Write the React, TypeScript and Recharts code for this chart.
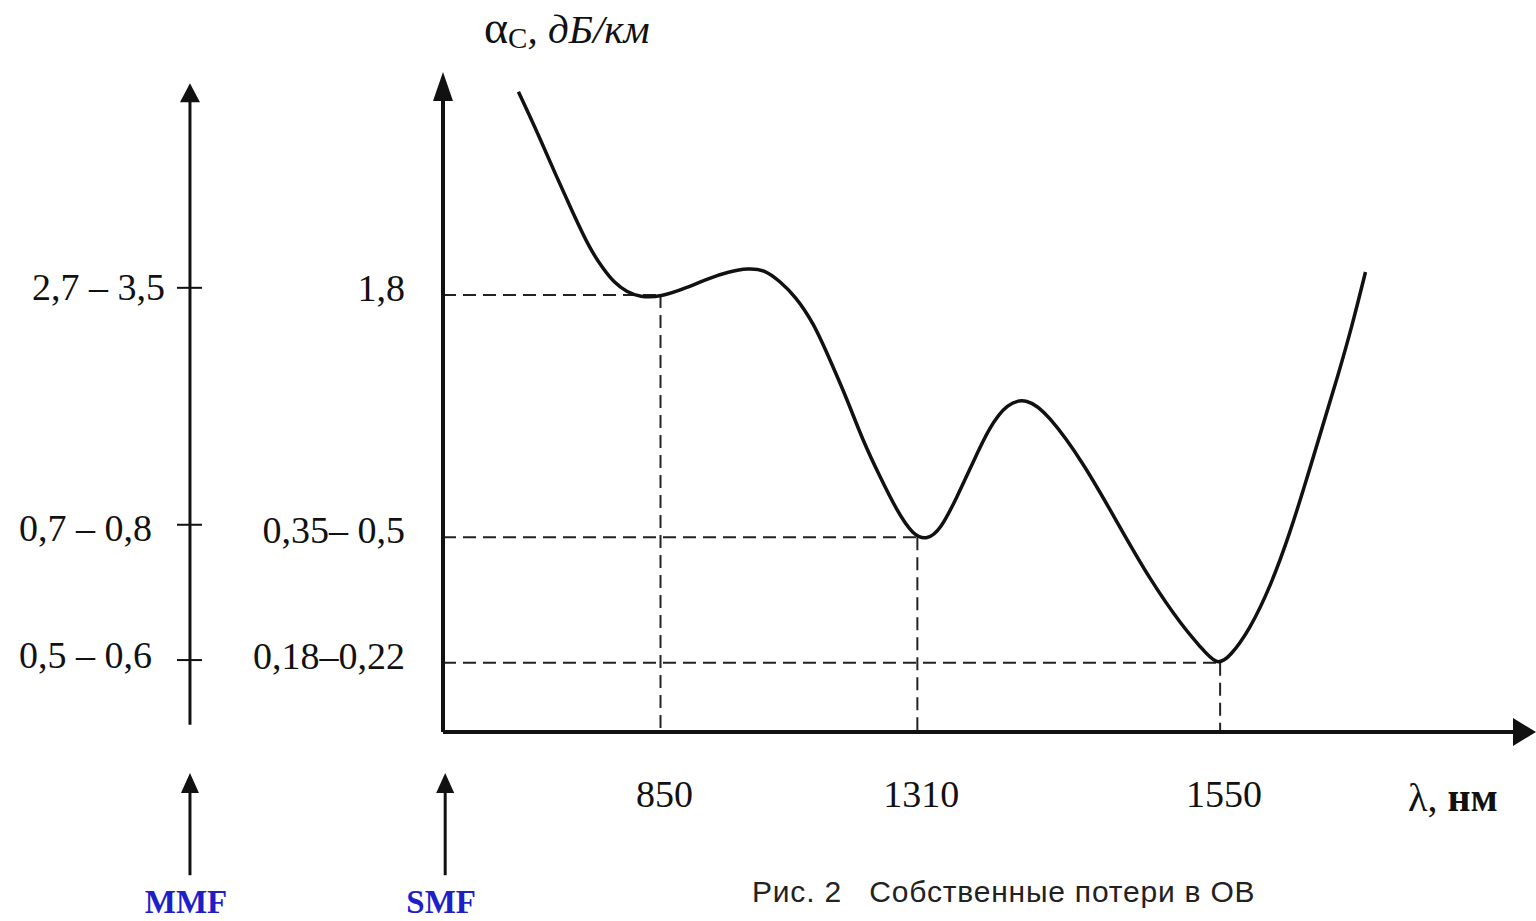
import {
  Line,
  LineChart,
  ReferenceDot,
  ReferenceLine,
  XAxis,
  YAxis,
} from "recharts";

// schematic attenuation curve (x: 0..100 along the wavelength axis, y: 0..100 up the loss axis)
const curveX = [
  6.9, 8.7, 10.4, 11.9, 13.4, 14.6, 15.7, 16.8, 18.0, 19.9, 22.3, 24.4, 26.1,
  27.9, 29.5, 30.8, 32.2, 33.9, 35.4, 37.0, 38.4, 40.0, 41.5, 43.0, 44.3, 45.5,
  47.0, 48.5, 50.0, 51.6, 53.4, 55.3, 58.6, 61.7, 64.7, 67.7, 69.3, 70.8, 72.0,
  73.8, 75.7, 77.5, 79.0, 80.5, 81.9, 83.2, 84.4,
];
const curveY = [
  97.0, 90.6, 84.1, 78.6, 73.3, 70.3, 68.0, 66.7, 65.9, 65.9, 67.3, 68.8, 69.7,
  70.3, 70.0, 68.3, 66.1, 62.0, 56.4, 50.3, 44.2, 38.6, 33.6, 29.8, 29.1, 30.6,
  35.5, 40.9, 46.2, 49.8, 50.6, 48.3, 40.8, 31.7, 23.0, 15.9, 12.9, 10.0, 11.4,
  15.5, 22.0, 30.2, 38.2, 46.5, 54.1, 61.7, 69.7,
];

const waveTicks = [19.9, 43.4, 71.1];
const waveLabels = ["850", "1310", "1550"];

const smfTicks = [66.2, 29.5, 10.5];
const smfLabels = ["1,8", "0,35– 0,5", "0,18–0,22"];

const mmfTicks = [67.3, 31.4, 10.9];
const mmfLabels = ["2,7 – 3,5", "0,7 – 0,8", "0,5 – 0,6"];

const curve = curveX.map((x, i) => ({ x, y: curveY[i] }));

const SERIF = '"Liberation Serif", "Times New Roman", serif';
const INK = "#111";
const MMF_X = -23.15;
const SMF_PTR_X = 0.2;

function WaveTick(props: any) {
  const { x, y, index } = props;
  return (
    <text x={x + 4} y={y + 75} textAnchor="middle" fontFamily={SERIF} fontSize={38} fill={INK}>
      {waveLabels[index]}
    </text>
  );
}

function SmfTick(props: any) {
  const { x, y, index } = props;
  return (
    <text x={x - 38} y={y + 6} textAnchor="end" fontFamily={SERIF} fontSize={38} fill={INK}>
      {smfLabels[index]}
    </text>
  );
}

function MmfTick(props: any) {
  const { x, y, index } = props;
  const dx = [0, -13, -13][index] ?? 0;
  const dy = [12, 16, 8][index] ?? 10;
  return (
    <g>
      <line x1={x - 13} x2={x + 12} y1={y} y2={y} stroke={INK} strokeWidth={2} />
      <text x={x - 25 + dx} y={y + dy} textAnchor="end" fontFamily={SERIF} fontSize={38} fill={INK}>
        {mmfLabels[index]}
      </text>
    </g>
  );
}

const upHead = (h: number, w: number) => (p: any) => (
  <polygon
    points={`${p.cx},${p.cy} ${p.cx - w},${p.cy + h} ${p.cx + w},${p.cy + h}`}
    fill={INK}
  />
);

const rightHead = (p: any) => (
  <polygon
    points={`${p.cx},${p.cy} ${p.cx - 23},${p.cy - 14} ${p.cx - 23},${p.cy + 14}`}
    fill={INK}
  />
);

const fiberLabel = (text: string) => (p: any) => {
  const vb = p.viewBox || {};
  return (
    <text
      x={(vb.x ?? 0) - 4}
      y={(vb.y ?? 0) + (vb.height ?? 0) + 38}
      textAnchor="middle"
      fontFamily={SERIF}
      fontWeight="bold"
      fontSize={33}
      fill="#1f1fc8"
    >
      {text}
    </text>
  );
};

export default function App() {
  return (
    <div
      style={{
        position: "absolute",
        left: 0,
        top: 0,
        width: 1536,
        height: 921,
        background: "#fff",
        overflow: "hidden",
      }}
    >
      <LineChart
        width={1536}
        height={921}
        data={curve}
        margin={{ top: 72, right: 0, bottom: 129, left: 0 }}
      >
        <XAxis
          type="number"
          dataKey="x"
          domain={[0, 100]}
          allowDataOverflow
          ticks={waveTicks}
          interval={0}
          height={60}
          axisLine={false}
          tickLine={false}
          tickSize={0}
          tickMargin={0}
          tick={(p: any) => <WaveTick {...p} />}
          label={{
            content: (p: any) => {
              const vb = p.viewBox || {};
              return (
                <text
                  x={(vb.x ?? 0) + (vb.width ?? 0) - 128}
                  y={(vb.y ?? 0) + 79}
                  fontFamily={SERIF}
                  fontSize={40}
                  fill={INK}
                >
                  λ, <tspan fontWeight="bold">нм</tspan>
                </text>
              );
            },
          }}
        />
        {/* inner scale: single-mode fibre (ids sort so this one sits next to the plot) */}
        <YAxis
          yAxisId="inner"
          type="number"
          domain={[0, 100]}
          allowDataOverflow
          ticks={smfTicks}
          interval={0}
          width={253}
          axisLine={false}
          tickLine={false}
          tickSize={0}
          tickMargin={0}
          tick={(p: any) => <SmfTick {...p} />}
          label={{
            content: (p: any) => {
              const vb = p.viewBox || {};
              return (
                <text
                  x={(vb.x ?? 0) + (vb.width ?? 0) + 41}
                  y={(vb.y ?? 0) - 29}
                  fontFamily={SERIF}
                  fontSize={46}
                  fill={INK}
                >
                  α
                  <tspan fontSize={29} dy={5}>C</tspan>
                  <tspan dy={-5} fontStyle="italic" fontSize={41}>, дБ/км</tspan>
                </text>
              );
            },
          }}
        />
        {/* outer scale: multimode fibre */}
        <YAxis
          yAxisId="outer"
          type="number"
          domain={[0, 100]}
          allowDataOverflow
          ticks={mmfTicks}
          interval={0}
          width={190}
          axisLine={false}
          tickLine={false}
          tickSize={0}
          tickMargin={0}
          tick={(p: any) => <MmfTick {...p} />}
        />

        {/* dashed guides from each minimum to both axes */}
        {waveTicks.map((wx, i) => (
          <ReferenceLine
            key={`h${i}`}
            yAxisId="inner"
            segment={[
              { x: 0, y: smfTicks[i] },
              { x: wx, y: smfTicks[i] },
            ]}
            stroke="#222"
            strokeWidth={2}
            strokeDasharray="13 7"
            ifOverflow="visible"
          />
        ))}
        {waveTicks.map((wx, i) => (
          <ReferenceLine
            key={`v${i}`}
            yAxisId="inner"
            segment={[
              { x: wx, y: smfTicks[i] },
              { x: wx, y: 0 },
            ]}
            stroke="#222"
            strokeWidth={2}
            strokeDasharray="13 7"
            ifOverflow="visible"
          />
        ))}

        {/* axes drawn as arrows */}
        <ReferenceLine
          yAxisId="inner"
          segment={[
            { x: 0, y: 0 },
            { x: 97.9, y: 0 },
          ]}
          stroke={INK}
          strokeWidth={4}
          ifOverflow="visible"
        />
        <ReferenceDot yAxisId="inner" x={100} y={0} ifOverflow="visible" shape={rightHead} />
        <ReferenceLine
          yAxisId="inner"
          segment={[
            { x: 0, y: 0 },
            { x: 0, y: 95.8 },
          ]}
          stroke={INK}
          strokeWidth={4}
          ifOverflow="visible"
        />
        <ReferenceDot yAxisId="inner" x={0} y={100} ifOverflow="visible" shape={upHead(29, 10)} />
        <ReferenceLine
          yAxisId="inner"
          segment={[
            { x: MMF_X, y: 1.1 },
            { x: MMF_X, y: 95.8 },
          ]}
          stroke={INK}
          strokeWidth={3}
          ifOverflow="visible"
        />
        <ReferenceDot yAxisId="inner" x={MMF_X} y={98.3} ifOverflow="visible" shape={upHead(19, 10)} />

        {/* pointers to MMF / SMF scales */}
        <ReferenceLine
          yAxisId="inner"
          segment={[
            { x: MMF_X, y: -21.7 },
            { x: MMF_X, y: -9.1 },
          ]}
          stroke={INK}
          strokeWidth={3}
          ifOverflow="visible"
          label={{ content: fiberLabel("MMF") }}
        />
        <ReferenceDot yAxisId="inner" x={MMF_X} y={-6.2} ifOverflow="visible" shape={upHead(20, 9)} />
        <ReferenceLine
          yAxisId="inner"
          segment={[
            { x: SMF_PTR_X, y: -21.7 },
            { x: SMF_PTR_X, y: -9.1 },
          ]}
          stroke={INK}
          strokeWidth={3}
          ifOverflow="visible"
          label={{ content: fiberLabel("SMF") }}
        />
        <ReferenceDot yAxisId="inner" x={SMF_PTR_X} y={-6.2} ifOverflow="visible" shape={upHead(20, 9)} />

        <Line
          yAxisId="inner"
          type="basis"
          dataKey="y"
          stroke={INK}
          strokeWidth={3.5}
          dot={false}
          isAnimationActive={false}
        />
      </LineChart>
      <div
        style={{
          position: "absolute",
          left: 752,
          top: 875,
          fontFamily: '"Liberation Sans", Arial, sans-serif',
          fontSize: 30,
          letterSpacing: 0.8,
          color: "#222",
          whiteSpace: "pre",
        }}
      >
        {"Рис. 2   Собственные потери в ОВ"}
      </div>
    </div>
  );
}
